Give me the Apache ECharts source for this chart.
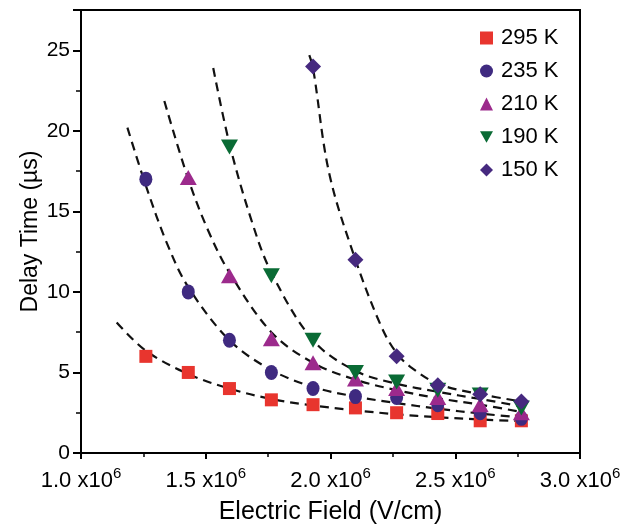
<!DOCTYPE html>
<html>
<head>
<meta charset="utf-8">
<script src="https://cdn.jsdelivr.net/npm/echarts@6/dist/echarts.min.js"></script>
<style>html,body{margin:0;padding:0;background:#fff}#c{width:634px;height:526px}</style>
</head>
<body>
<div id="c"></div>
<script>
// Electric field values (V/cm)
const fieldX = [1.26e6, 1.43e6, 1.595e6, 1.763e6, 1.93e6, 2.10e6, 2.265e6, 2.43e6, 2.60e6, 2.765e6];
const xTickLabels = ['1.0', '1.5', '2.0', '2.5', '3.0'];
const seriesNames = ['295 K', '235 K', '210 K', '190 K', '150 K'];

// Measured delay times (µs)
const delay295 = [6.0, 5.0, 4.0, 3.3, 3.0, 2.8, 2.5, 2.45, 2.0, 2.0];
const delay235 = [17.0, 10.0, 7.0, 5.0, 4.0, 3.5, 3.45, 3.0, 2.5, 2.15];
const delay210 = [17.1, 11.0, 7.1, 5.6, 4.6, 4.0, 3.45, 3.0, 2.5];      // from 1.43e6
const delay190 = [19.0, 11.0, 7.0, 5.0, 4.4, 3.9, 3.6, 2.8];           // from 1.595e6
const delay150 = [24.0, 12.0, 6.0, 4.2, 3.65, 3.2];                    // from 1.93e6

// Dashed fit curves: [field, delay]
const fit295 = [[1.143e6, 8.1], [1.26e6, 6.35], [1.43e6, 4.9], [1.595e6, 4.0], [1.763e6, 3.35], [1.93e6, 2.95], [2.10e6, 2.65], [2.265e6, 2.4], [2.43e6, 2.22], [2.60e6, 2.08], [2.765e6, 1.98]];
const fit235 = [[1.186e6, 20.2], [1.26e6, 16.6], [1.345e6, 13.0], [1.43e6, 10.3], [1.595e6, 7.0], [1.763e6, 5.15], [1.93e6, 4.1], [2.10e6, 3.5], [2.265e6, 3.1], [2.43e6, 2.75], [2.60e6, 2.45], [2.765e6, 2.2]];
const fit210 = [[1.334e6, 21.85], [1.43e6, 17.0], [1.51e6, 13.8], [1.595e6, 11.2], [1.763e6, 7.5], [1.93e6, 5.6], [2.10e6, 4.55], [2.265e6, 3.9], [2.43e6, 3.4], [2.60e6, 3.0], [2.765e6, 2.55]];
const fit190 = [[1.53e6, 23.9], [1.595e6, 19.2], [1.68e6, 14.6], [1.763e6, 11.2], [1.93e6, 7.0], [2.10e6, 5.1], [2.265e6, 4.3], [2.43e6, 3.8], [2.60e6, 3.35], [2.765e6, 2.9]];
const fit150 = [[1.915e6, 24.7], [1.93e6, 23.9], [1.995e6, 17.35], [2.10e6, 12.0], [2.205e6, 7.8], [2.265e6, 6.2], [2.32e6, 5.35], [2.43e6, 4.3], [2.60e6, 3.65], [2.765e6, 3.2]];

const FONT = '"Liberation Sans", Arial, sans-serif';
const colors = ['#e8352e', '#3f2a80', '#9c2a8c', '#0a6b35', '#46297f'];
const downTri = 'path://M0,0 L10,0 L5,9 Z';
const symbols = ['rect', 'circle', 'triangle', downTri, 'diamond'];
const sizes = [[13, 13], [13, 15], [17, 15], [17, 15], [16, 16]];

function pair(values, startIdx) {
  return values.map((v, i) => [fieldX[i + startIdx], v]);
}
const scatterData = [pair(delay295, 0), pair(delay235, 0), pair(delay210, 1), pair(delay190, 2), pair(delay150, 4)];
const fits = [fit295, fit235, fit210, fit190, fit150];

const series = [];
fits.forEach((f) => {
  series.push({
    type: 'line', data: f, smooth: 0.35, symbol: 'none', silent: true, z: 1,
    lineStyle: { color: '#111', width: 2.2, type: [9, 6] }
  });
});
scatterData.forEach((d, i) => {
  series.push({
    name: seriesNames[i], type: 'scatter', data: d, symbol: symbols[i], symbolSize: sizes[i], z: 3 + i,
    itemStyle: { color: colors[i], opacity: 1 }
  });
});

const chart = echarts.init(document.getElementById('c'), null, { renderer: 'canvas' });
chart.setOption({
  animation: false,
  backgroundColor: '#fff',
  textStyle: { fontFamily: FONT },
  grid: { left: 81, top: 10, right: 54, bottom: 73, outerBoundsMode: 'none', containLabel: false,
    show: true, borderColor: '#000', borderWidth: 2, backgroundColor: 'transparent' },
  legend: {
    orient: 'vertical', left: 475, top: 22, itemGap: 11, itemWidth: 13, itemHeight: 13,
    textStyle: { fontSize: 22, color: '#000', lineHeight: 22, fontFamily: FONT, padding: [0, 0, 0, 3] },
    data: seriesNames.map((n, i) => ({ name: n, icon: symbols[i] }))
  },
  xAxis: {
    type: 'value', min: 1.0e6, max: 3.0e6, interval: 0.5e6,
    name: 'Electric Field (V/cm)', nameLocation: 'middle', nameGap: 47,
    nameTextStyle: { fontSize: 25, color: '#000', fontFamily: FONT },
    axisLine: { show: true, lineStyle: { color: '#000', width: 2 } },
    axisTick: { show: true, inside: false, length: 6, lineStyle: { color: '#000', width: 2 } },
    minorTick: { show: true, splitNumber: 2, length: 4, lineStyle: { color: '#000', width: 1.5 } },
    splitLine: { show: false },
    axisLabel: {
      color: '#000', margin: 13, fontSize: 22, fontFamily: FONT,
      formatter: function (v) {
        const idx = Math.round((v - 1.0e6) / 0.5e6);
        return '{a|' + xTickLabels[idx] + ' x10}{b|6}';
      },
      rich: {
        a: { fontSize: 22, color: '#000', verticalAlign: 'bottom', fontFamily: FONT },
        b: { fontSize: 15, color: '#000', verticalAlign: 'top', padding: [0, 0, 11, 0], fontFamily: FONT }
      }
    }
  },
  yAxis: {
    type: 'value', min: 0, max: 27.5, interval: 5,
    name: 'Delay Time (µs)', nameLocation: 'middle', nameGap: 39, nameRotate: 90, nameMoveOverlap: false,
    nameTextStyle: { fontSize: 23, color: '#000', fontFamily: FONT },
    axisLine: { show: true, lineStyle: { color: '#000', width: 2 } },
    axisTick: { show: true, inside: false, length: 8, lineStyle: { color: '#000', width: 2 } },
    minorTick: { show: true, splitNumber: 2, length: 5, lineStyle: { color: '#000', width: 1.5 } },
    splitLine: { show: false },
    axisLabel: { color: '#000', fontSize: 21, margin: 11, showMaxLabel: false, fontFamily: FONT,
      formatter: function (v) { return (v % 5 === 0) ? String(v) : ''; } }
  },
  series: series
});
</script>
</body>
</html>
